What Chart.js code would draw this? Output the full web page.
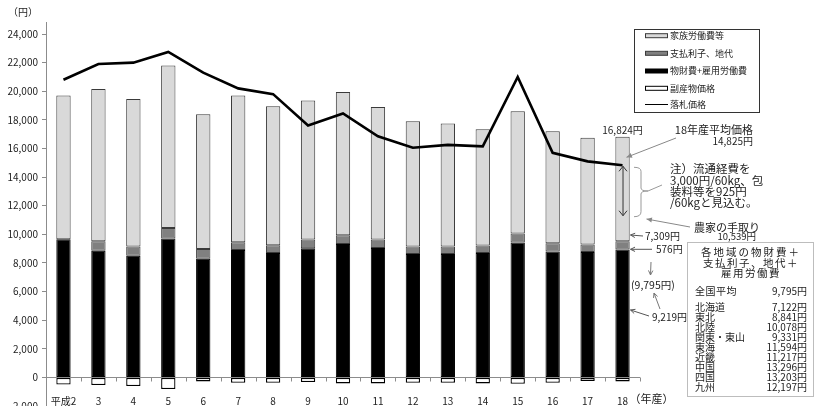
<!DOCTYPE html>
<html>
<head>
<meta charset="utf-8">
<script src="https://cdn.jsdelivr.net/npm/chart.js@4/dist/chart.umd.min.js"></script>
<style>
  html, body { margin: 0; padding: 0; background: #fff; }
  #wrap { width: 814px; height: 406px; position: relative; overflow: hidden; }
</style>
</head>
<body>
<div id="wrap"><canvas id="c" width="814" height="406"></canvas></div>
<script>
// 生産費と落札価格の推移（円/60kg）
const years = ['平成2', '3', '4', '5', '6', '7', '8', '9', '10', '11', '12', '13', '14', '15', '16', '17', '18'];

// 物財費+雇用労働費（副産物価格控除前）
const materialCost = [10150, 9390, 9110, 10520, 8580, 9280, 9080, 9360, 9750, 9470, 9010, 9010, 9120, 9880, 9180, 9030, 9219];
// 支払利子、地代
const interestRent = [0, 670, 650, 750, 680, 550, 540, 600, 610, 590, 520, 520, 520, 620, 580, 520, 576];
// 家族労働費等
const familyLabor = [10050, 10630, 10300, 11350, 9420, 10250, 9710, 9720, 10010, 9260, 8750, 8600, 8130, 8550, 7820, 7460, 7309];
// 副産物価格
const byproduct = [500, 540, 610, 820, 280, 380, 380, 330, 420, 420, 380, 380, 420, 450, 380, 260, 280];
// 落札価格
const bidPrice = [20800, 21900, 22000, 22750, 21300, 20200, 19800, 17600, 18450, 16850, 16050, 16250, 16150, 21000, 15700, 15100, 14825];

const yTicks = [-2000, 0, 2000, 4000, 6000, 8000, 10000, 12000, 14000, 16000, 18000, 20000, 22000, 24000];

// 各地域の物財費＋支払利子、地代＋雇用労働費（18年産）
const nationalAverage = 9795;
const regions = ['北海道', '東北', '北陸', '関東・東山', '東海', '近畿', '中国', '四国', '九州'];
const regionCosts = [7122, 8841, 10078, 9331, 11594, 11217, 13296, 13203, 12197];

// 18年産の注記に使う値
const avgPrice18 = 14825;
const farmerTake18 = 10539;
const farmerArrowEnd = 11300;

const FONT = '"Noto Sans CJK JP", "Noto Sans", sans-serif';
const yen = v => v.toLocaleString('en-US') + '円';

// 積み上げ用：物財費+雇用労働費から副産物価格を差し引いて描く
const netMaterial = materialCost.map((v, i) => v - byproduct[i]);
const byproductNeg = byproduct.map(v => -v);

const seriesStyle = {
  family:   { label: '家族労働費等',       bg: '#d9d9d9', border: '#3a3a3a' },
  interest: { label: '支払利子、地代',     bg: '#808080', border: '#3a3a3a' },
  material: { label: '物財費+雇用労働費', bg: '#000000', border: '#000000' },
  byprod:   { label: '副産物価格',         bg: '#ffffff', border: '#000000' },
  price:    { label: '落札価格' }
};

function arrow(ctx, x1, y1, x2, y2, opt) {
  const o = Object.assign({ color: '#777', width: 1, head: 5, filled: false }, opt || {});
  const a = Math.atan2(y2 - y1, x2 - x1);
  ctx.save();
  ctx.strokeStyle = o.color;
  ctx.fillStyle = o.color;
  ctx.lineWidth = o.width;
  ctx.beginPath();
  ctx.moveTo(x1, y1);
  ctx.lineTo(x2, y2);
  ctx.stroke();
  const hx1 = x2 - o.head * Math.cos(a - 0.45), hy1 = y2 - o.head * Math.sin(a - 0.45);
  const hx2 = x2 - o.head * Math.cos(a + 0.45), hy2 = y2 - o.head * Math.sin(a + 0.45);
  ctx.beginPath();
  if (o.filled) {
    ctx.moveTo(x2, y2); ctx.lineTo(hx1, hy1); ctx.lineTo(hx2, hy2); ctx.closePath(); ctx.fill();
  } else {
    ctx.moveTo(hx1, hy1); ctx.lineTo(x2, y2); ctx.lineTo(hx2, hy2); ctx.stroke();
  }
  ctx.restore();
}

function text(ctx, s, x, y, size, align, color, spacing) {
  ctx.save();
  ctx.font = size + 'px ' + FONT;
  ctx.fillStyle = color || '#222';
  ctx.textAlign = align || 'left';
  ctx.textBaseline = 'middle';
  if (spacing) ctx.letterSpacing = spacing + 'px';
  ctx.fillText(s, x, y);
  ctx.restore();
}

const overlay = {
  id: 'overlay',
  beforeDatasetsDraw(chart) {
    const { ctx, chartArea: ca, scales: { y } } = chart;
    const y0 = Math.round(y.getPixelForValue(0)) + 0.5;
    const step = (ca.right - ca.left) / years.length;
    ctx.save();
    ctx.strokeStyle = '#8c8c8c';
    ctx.lineWidth = 1;
    ctx.beginPath();
    ctx.moveTo(ca.left, y0);
    ctx.lineTo(ca.right, y0);
    for (let k = 0; k <= years.length; k++) {
      const tx = Math.round(ca.left + k * step) + 0.5;
      ctx.moveTo(tx, y0);
      ctx.lineTo(tx, y0 + 4);
    }
    ctx.stroke();
    ctx.restore();
  },
  afterDraw(chart) {
    const { ctx, scales: { x, y } } = chart;

    // 軸の単位とカテゴリ名
    text(ctx, '（円）', 8, 12, 10, 'left');
    years.forEach((lab, i) => text(ctx, lab, x.getPixelForValue(i), 401, 10, 'center'));
    text(ctx, '（年産）', x.getPixelForValue(years.length - 1) + 7, 399, 11, 'left');

    // 凡例
    ctx.save();
    ctx.strokeStyle = '#333';
    ctx.lineWidth = 1;
    ctx.fillStyle = '#fff';
    ctx.fillRect(634.5, 29.5, 125, 83);
    ctx.strokeRect(634.5, 29.5, 125, 83);
    const items = ['family', 'interest', 'material', 'byprod', 'price'];
    const rows = [35.7, 53.3, 71, 88.3, 104.3];
    items.forEach((key, i) => {
      const st = seriesStyle[key];
      const ry = rows[i];
      if (key === 'price') {
        ctx.strokeStyle = '#000';
        ctx.lineWidth = 1;
        ctx.beginPath();
        ctx.moveTo(645, Math.round(ry) + 0.5);
        ctx.lineTo(668, Math.round(ry) + 0.5);
        ctx.stroke();
      } else {
        ctx.fillStyle = st.bg;
        ctx.fillRect(645.5, ry - 2, 22, 4);
        ctx.strokeStyle = st.border;
        ctx.lineWidth = 1;
        ctx.strokeRect(645.5, ry - 2, 22, 4);
      }
      text(ctx, st.label, 670, ry, 9, 'left');
    });
    ctx.restore();

    // 18年産の注記
    const xb = x.getPixelForValue(years.length - 1);
    const i18 = years.length - 1;
    const total18 = materialCost[i18] + interestRent[i18] + familyLabor[i18] - byproduct[i18];
    text(ctx, yen(total18), xb, y.getPixelForValue(total18) - 6, 10, 'center');
    text(ctx, '18年産平均価格', 753, 130, 11, 'right');
    text(ctx, yen(avgPrice18), 753, 141, 10, 'right');
    arrow(ctx, 676, 138, xb + 4, y.getPixelForValue(avgPrice18) - 8, { color: '#888', head: 6, filled: true });

    // 流通経費の幅（両矢印）と括弧
    const yTop = y.getPixelForValue(avgPrice18) + 1;
    const yBot = y.getPixelForValue(farmerArrowEnd);
    ctx.save();
    ctx.strokeStyle = '#333';
    ctx.lineWidth = 1;
    ctx.beginPath();
    ctx.moveTo(xb + 0.5, yTop);
    ctx.lineTo(xb + 0.5, yBot);
    ctx.moveTo(xb - 3.5, yTop + 5); ctx.lineTo(xb + 0.5, yTop); ctx.lineTo(xb + 4.5, yTop + 5);
    ctx.moveTo(xb - 3.5, yBot - 5); ctx.lineTo(xb + 0.5, yBot); ctx.lineTo(xb + 4.5, yBot - 5);
    ctx.stroke();
    ctx.strokeStyle = '#999';
    ctx.beginPath();
    const ym = (yTop + yBot) / 2;
    ctx.moveTo(634, yTop + 1);
    ctx.quadraticCurveTo(641, yTop + 1, 641, yTop + 5);
    ctx.lineTo(641, ym - 3);
    ctx.quadraticCurveTo(641, ym, 648, ym);
    ctx.quadraticCurveTo(641, ym, 641, ym + 3);
    ctx.lineTo(641, yBot - 4);
    ctx.quadraticCurveTo(641, yBot + 1, 634, yBot + 1);
    ctx.moveTo(648, ym);
    ctx.lineTo(662, ym - 6);
    ctx.stroke();
    ctx.restore();

    const note = ['注）流通経費を', '3,000円/60kg、包', '装料等を925円', '/60kgと見込む。'];
    [169, 180.5, 191.7, 202.8].forEach((ly, k) => text(ctx, note[k], 670, ly, 11.5, 'left'));

    text(ctx, '農家の手取り', 760, 227.5, 11, 'right');
    text(ctx, yen(farmerTake18), 756, 236.5, 9.5, 'right');
    arrow(ctx, 690, 227, xb + 24, 219, { color: '#888', head: 6, filled: true });

    // 積み上げ各部の値
    const barR = xb + 8;
    text(ctx, yen(familyLabor[i18]), 645, 236, 10, 'left');
    arrow(ctx, 643, 236, barR, 235, { color: '#555', head: 5 });
    text(ctx, yen(interestRent[i18]), 656, 249.3, 10, 'left');
    arrow(ctx, 652, 249.3, barR, 249.3, { color: '#555', head: 5 });
    arrow(ctx, 651, 262, 650.5, 275, { color: '#777', head: 5 });
    text(ctx, '(' + yen(materialCost[i18] + interestRent[i18]) + ')', 631, 285, 10.5, 'left');
    arrow(ctx, 660, 309, 654, 293, { color: '#777', head: 5 });
    text(ctx, yen(materialCost[i18]), 652, 317.3, 10, 'left');
    arrow(ctx, 649, 316, barR, 310, { color: '#555', head: 5 });

    // 地域別の表
    ctx.save();
    ctx.fillStyle = '#fff';
    ctx.fillRect(687.5, 242.5, 126, 154);
    ctx.strokeStyle = '#bdbdbd';
    ctx.lineWidth = 1;
    ctx.strokeRect(687.5, 242.5, 126, 154);
    ctx.restore();
    text(ctx, '各地域の物財費＋', 751, 252.5, 10.5, 'center', '#222', 2);
    text(ctx, '支払利子、地代＋', 751, 263.3, 10.5, 'center', '#222', 1.5);
    text(ctx, '雇用労働費', 751, 273.5, 10.5, 'center', '#222', 1.5);
    text(ctx, '全国平均', 695, 291, 10, 'left', '#222', 0.5);
    text(ctx, yen(nationalAverage), 807, 291, 10, 'right');
    regions.forEach((r, k) => {
      const ry = 307.7 + k * 9.95;
      text(ctx, r, 695, ry, 10, 'left');
      text(ctx, yen(regionCosts[k]), 807, ry, 10, 'right');
    });
  }
};

Chart.defaults.font.family = FONT;
Chart.defaults.font.size = 10;
Chart.defaults.color = '#222';

new Chart(document.getElementById('c'), {
  type: 'bar',
  data: {
    labels: years,
    datasets: [
      {
        label: seriesStyle.material.label, data: netMaterial,
        backgroundColor: seriesStyle.material.bg, borderColor: seriesStyle.material.border,
        borderWidth: 1, borderSkipped: false, stack: 'cost', order: 1
      },
      {
        label: seriesStyle.interest.label, data: interestRent,
        backgroundColor: seriesStyle.interest.bg, borderColor: seriesStyle.interest.border,
        borderWidth: 1, borderSkipped: false, stack: 'cost', order: 1
      },
      {
        label: seriesStyle.family.label, data: familyLabor,
        backgroundColor: seriesStyle.family.bg, borderColor: seriesStyle.family.border,
        borderWidth: 1, borderSkipped: false, stack: 'cost', order: 1
      },
      {
        label: seriesStyle.byprod.label, data: byproductNeg,
        backgroundColor: seriesStyle.byprod.bg, borderColor: seriesStyle.byprod.border,
        borderWidth: 1.3, borderSkipped: false, stack: 'cost', order: 1
      },
      {
        type: 'line', label: seriesStyle.price.label, data: bidPrice,
        borderColor: '#000', borderWidth: 2.6, pointRadius: 0, tension: 0,
        fill: false, stack: 'price', order: 0
      }
    ]
  },
  options: {
    responsive: false,
    animation: false,
    devicePixelRatio: 1,
    layout: { padding: { top: 22, right: 174, bottom: 0, left: 0 } },
    plugins: { legend: { display: false }, tooltip: { enabled: false } },
    datasets: { bar: { categoryPercentage: 1, barPercentage: 0.41 } },
    scales: {
      x: { display: false, stacked: true, offset: true },
      y: {
        stacked: true,
        min: -2000,
        max: 24840,
        afterBuildTicks: s => { s.ticks = yTicks.map(v => ({ value: v })); },
        afterFit: s => { s.width = 46; s.paddingTop = 0; s.paddingBottom = 0; },
        grid: { drawOnChartArea: false, drawTicks: true, tickLength: 4, color: '#8c8c8c' },
        border: { display: true, color: '#8c8c8c', width: 1 },
        ticks: {
          padding: 4,
          font: { size: 10 },
          color: '#222',
          callback: v => v.toLocaleString('en-US')
        }
      }
    }
  },
  plugins: [overlay]
});
</script>
</body>
</html>
